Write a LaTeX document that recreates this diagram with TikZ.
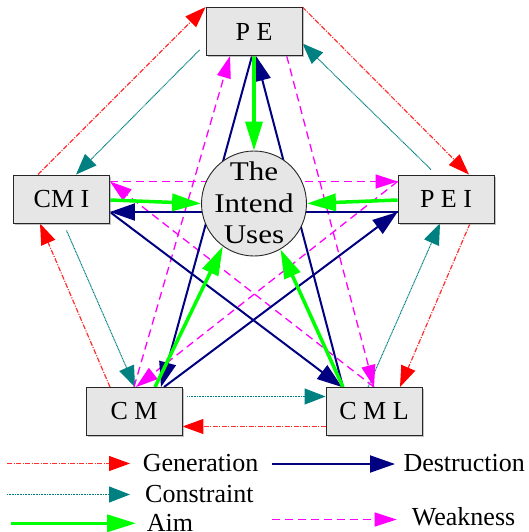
\documentclass[tikz,border=0pt]{standalone}
\usepackage{fontspec}
\setmainfont{Liberation Serif}
\newfontfamily\widefont[FakeStretch=1.15]{Liberation Serif}
\usetikzlibrary{arrows.meta,shadows,backgrounds}
\definecolor{genline}{HTML}{FF3030}
\definecolor{genhead}{HTML}{FF0000}
\definecolor{tealc}{HTML}{008080}
\definecolor{aimg}{HTML}{00FF00}
\definecolor{navyc}{HTML}{000080}
\definecolor{magc}{HTML}{FF00FF}
\definecolor{boxfill}{HTML}{E6E6E6}
\begin{document}
\begin{tikzpicture}[x=1pt,y=-1pt,
  box/.style={draw=black!85, line width=0.9pt, fill=boxfill, minimum width=96pt,
    minimum height=48pt, inner sep=0pt, font=\fontsize{26}{30}\selectfont,
    drop shadow={shadow xshift=1.5pt,shadow yshift=-1.5pt,fill=black!40,opacity=0.6}},
  hub/.style={circle, draw=black!85, line width=0.9pt, fill=boxfill, minimum size=105pt,
    inner sep=0pt},
  hubtext/.style={inner sep=0pt, align=center, font=\widefont\fontsize{27}{31.5}\selectfont},
  gen/.style={draw=genline, line width=1.2pt, dash pattern=on 5pt off 1.5pt on 1pt off 1.5pt,
    -{Triangle[length=21pt,width=15pt,color=genhead]}},
  con/.style={draw=tealc, line width=1pt, dash pattern=on 1pt off 0.6pt,
    -{Triangle[length=21pt,width=16pt,color=tealc]}},
  aim/.style={draw=aimg, line width=3.5pt,
    -{Triangle[length=29pt,width=17pt,color=aimg]}},
  des/.style={draw=navyc, line width=2pt,
    -{Triangle[length=25pt,width=17pt,color=navyc]}},
  weak/.style={draw=magc, line width=1.3pt, dash pattern=on 8pt off 5pt,
    -{Triangle[length=22pt,width=14pt,color=magc]}},
  legtext/.style={anchor=base west, inner sep=0pt, font=\fontsize{26}{30}\selectfont}
]
\useasboundingbox (0,0) rectangle (528,532);

% nodes
\node[box] (PE)  at (254,31.5)  {P E};
\node[box] (CMI) at (61.5,199)  {CM I};
\node[box] (PEI) at (446,199)   {P E I};
\node[box] (CM)  at (134,411.5) {C M};
\node[box] (CML) at (374,411.5) {C M L};
\node[hub] (c)   at (254,203.5) {};
\node[hubtext] (ct) at (254,203) {The\\Intend\\Uses};

\begin{scope}[on background layer]
% Generation
\draw[gen] ([xshift=-23.5pt]CMI.north) -- (PE.north west);
\draw[gen] (PE.north east) -- ([xshift=23pt]PEI.north);
\draw[gen] ([xshift=24pt]PEI.south) -- ([xshift=26pt]CML.north);
\draw[gen] ([yshift=-15pt]CML.west) -- ([yshift=-15pt]CM.east);
\draw[gen] ([xshift=-24pt]CM.north) -- ([xshift=-21.5pt]CMI.south);
% Constraint
\draw[con] ([xshift=-6pt,yshift=6pt]PE.south west) -- ([xshift=14.5pt]CMI.north);
\draw[con] ([xshift=-15pt,yshift=5pt]PEI.north) -- ([yshift=-12pt]PE.east);
\draw[con] ([xshift=-6pt]CML.north) -- ([xshift=-6pt]PEI.south);
\draw[con] ([xshift=5pt,yshift=15pt]CM.east) -- ([yshift=15pt]CML.west);
\draw[con] ([xshift=5pt,yshift=-7pt]CMI.south) -- ([xshift=1pt]CM.north);
% Weakness
\draw[weak] ([yshift=17.5pt]CMI.east) -- ([yshift=17.5pt]PEI.west);
\draw[weak] ([yshift=17.5pt]PEI.west) -- ([xshift=2pt]CM.north);
\draw[weak] (CM.north) -- ([xshift=-24pt]PE.south);
\draw[weak] ([xshift=32.7pt]PE.south) -- (CML.north);
\draw[weak] (CML.north) -- ([yshift=17.5pt]CMI.east);
% Destruction
\draw[des] ([xshift=-2pt]PE.south) -- ([xshift=27pt]CM.north);
\draw[des] ([xshift=30pt]CM.north) -- ([yshift=-13pt]PEI.west);
\draw[des] ([yshift=-13pt]PEI.west) -- ([yshift=-13pt]CMI.east);
\draw[des] ([yshift=-13pt]CMI.east) -- ([xshift=-32pt]CML.north);
\draw[des] ([xshift=-31pt]CML.north) -- ([xshift=2pt]PE.south);
% Aim
\draw[aim] (PE.south) -- (c.north);
\draw[aim] ([yshift=-1pt]CMI.east) -- (c.west);
\draw[aim] ([yshift=-1pt]PEI.west) -- (c.east);
\draw[aim] ([xshift=21pt]CM.north) -- (c.234);
\draw[aim] ([xshift=-31pt]CML.north) -- (c.-60);
\end{scope}

% legend
\coordinate (g1) at (7,463.5);   \coordinate (g2) at (130,463.5);
\coordinate (k1) at (7,494.5);   \coordinate (k2) at (130,494.5);
\coordinate (a1) at (10.7,523.3);\coordinate (a2) at (136,523.3);
\coordinate (d1) at (271.7,464); \coordinate (d2) at (395,464);
\coordinate (w1) at (271.7,519.5); \coordinate (w2) at (396.7,519.5);
\draw[gen] (g1) -- (g2);
\draw[con] (k1) -- (k2);
\draw[aim] (a1) -- (a2);
\draw[des] (d1) -- (d2);
\draw[weak] (w1) -- (w2);
\node[legtext] (tg) at (142.7,471.7) {Generation};
\node[legtext] (tk) at (145,502.7)   {Constraint};
\node[legtext] (ta) at (146.7,531.5) {Aim};
\node[legtext] (td) at (403.3,471.7) {Destruction};
\node[legtext] (tw) at (411.7,525)   {Weakness};
\end{tikzpicture}
\end{document}
